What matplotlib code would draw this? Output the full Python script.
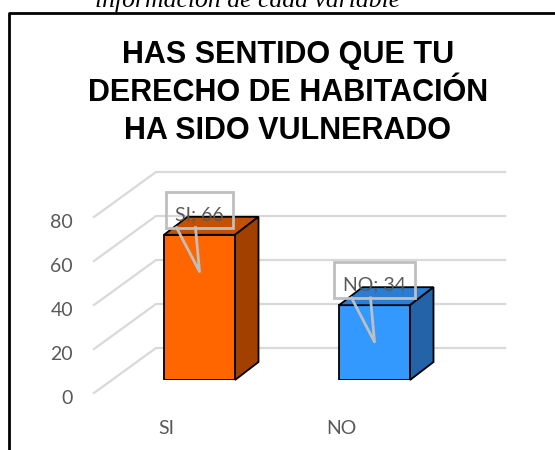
import matplotlib
matplotlib.use("Agg")
import matplotlib.pyplot as plt
from matplotlib.patches import Polygon, Rectangle
from matplotlib.lines import Line2D

# ---- data ----
categories = ["SI", "NO"]
values = [66, 34]
tick_values = [0, 20, 40, 60, 80]
tick_labels = ["0", "20", "40", "60", "80"]
title = "HAS SENTIDO QUE TU\nDERECHO DE HABITACIÓN\nHA SIDO VULNERADO"
caption = "información de cada variable"

# ---- style ----
front_colors = ["#FF6600", "#3399FF"]
top_colors = ["#C45000", "#2A7DD2"]
side_colors = ["#A24000", "#2463A8"]
grid_color = "#D9D9D9"
text_gray = "#595959"
callout_color = "#BFBFBF"
label_font = "Lato"

W, H = 555, 450
fig = plt.figure(figsize=(W / 100, H / 100), dpi=100)
fig.patch.set_facecolor("white")

# axes: front plane of bars
ax_left, ax_bottom, ax_w, ax_h = 112, 70, 350, 220
ax = fig.add_axes([ax_left / W, ax_bottom / H, ax_w / W, ax_h / H])
ax.set_xlim(-0.5, 1.5)
ax.set_ylim(0, 100)
ax.axis("off")

ux = 2.0 / ax_w      # data units per pixel (x)
uy = 100.0 / ax_h    # data units per pixel (y)

# depth offsets (pixels)
back_dx, back_dy = 44 * ux, 32 * uy
front_dx, front_dy = -18 * ux, -13 * uy
bar_dx, bar_dy = 23.5 * ux, 18 * uy
bar_w = 71 * ux

# gridlines (3D floor/back wall style)
for v in tick_values:
    ax.add_line(Line2D([-0.5 + front_dx, -0.5 + back_dx, 1.5 + back_dx * 0.98],
                       [v + front_dy, v + back_dy, v + back_dy],
                       color=grid_color, lw=1.6, clip_on=False, zorder=1))
for v, lab in zip(tick_values, tick_labels):
    ax.text(-0.5 + front_dx - 21 * ux, v + front_dy - 5 * uy, lab,
            ha="right", va="center", fontsize=14, color=text_gray,
            family=label_font, clip_on=False)

# bars
xs = list(range(len(categories)))
for x, v, fc, tc, sc in zip(xs, values, front_colors, top_colors, side_colors):
    x0, x1 = x - bar_w / 2, x + bar_w / 2
    ax.bar(x, v, width=bar_w, color=fc, edgecolor="black", lw=1.3, zorder=3)
    ax.add_patch(Polygon([(x0, v), (x1, v), (x1 + bar_dx, v + bar_dy), (x0 + bar_dx, v + bar_dy)],
                         closed=True, fc=tc, ec="black", lw=1.3, zorder=3, clip_on=False))
    ax.add_patch(Polygon([(x1, 0), (x1 + bar_dx, bar_dy), (x1 + bar_dx, v + bar_dy), (x1, v)],
                         closed=True, fc=sc, ec="black", lw=1.3, zorder=3, clip_on=False))

# callout labels
renderer = fig.canvas.get_renderer()
box_h = 36 * uy
for x, v, cat in zip(xs, values, categories):
    box_cy = v + 11.5
    t = ax.text(x, box_cy - 5 * uy, f"{cat}; {v}", ha="center", va="center", fontsize=14,
                color=text_gray, family=label_font, zorder=6, clip_on=False)
    tw = t.get_window_extent(renderer).width
    bw = (tw + 18) * ux
    ax.add_patch(Rectangle((x - bw / 2, box_cy - box_h / 2), bw, box_h, fc="none",
                           ec=callout_color, lw=2, zorder=5, clip_on=False))
    box_bottom = box_cy - box_h / 2
    ax.add_line(Line2D([x - 23 * ux, x, x - 4 * ux],
                       [box_bottom, box_bottom - 44 * uy, box_bottom],
                       color=callout_color, lw=2, zorder=5, clip_on=False))

# category labels
for x, cat in zip(xs, categories):
    ax.text(x - 33 * ux, -48 * uy, cat, ha="center", va="center", fontsize=14,
            color=text_gray, family=label_font, clip_on=False)

# title
fig.text(288 / W, 1 - 93 / H, title, ha="center", va="center", fontsize=22,
         fontweight="bold", family="Liberation Sans", linespacing=1.34, color="black")

# chart border (left and top edges)
fig.add_artist(Line2D([9 / W, 9 / W, 1.0], [0, 1 - 13 / H, 1 - 13 / H],
                      transform=fig.transFigure, color="black", lw=2))

# cropped caption at top
fig.text(248 / W, 1 - 7 / H, caption, ha="center", va="baseline", fontsize=18.5,
         style="italic", family="Liberation Serif", color="black")

fig.savefig("out.png", dpi=100)
